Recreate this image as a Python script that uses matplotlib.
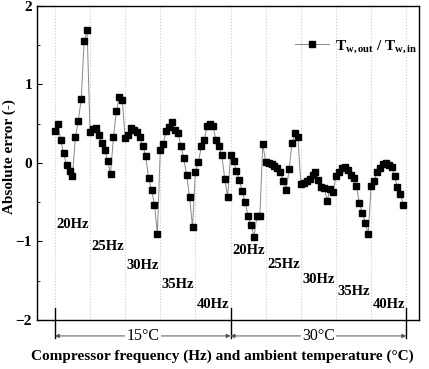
import matplotlib
matplotlib.use('Agg')
import matplotlib.pyplot as plt
import matplotlib.transforms as mtransforms
from matplotlib.ticker import MultipleLocator

plt.rcParams['font.family'] = ['Liberation Serif', 'DejaVu Serif']
plt.rcParams['font.weight'] = 'bold'
plt.rcParams['axes.labelweight'] = 'bold'
plt.rcParams['mathtext.fontset'] = 'custom'
plt.rcParams['mathtext.rm'] = 'Liberation Serif:bold'
plt.rcParams['mathtext.bf'] = 'Liberation Serif:bold'
plt.rcParams['mathtext.it'] = 'Liberation Serif:bold'

# absolute error, 12 samples per frequency, 15C then 30C
err_15_20 = [0.41, 0.50, 0.29, 0.12, -0.03, -0.10, -0.17, 0.33, 0.54, 0.82, 1.55, 1.69]
err_15_25 = [0.40, 0.43, 0.45, 0.36, 0.25, 0.16, 0.03, -0.14, 0.33, 0.66, 0.84, 0.80]
err_15_30 = [0.32, 0.36, 0.45, 0.42, 0.40, 0.33, 0.22, 0.09, -0.19, -0.34, -0.53, -0.90]
err_15_35 = [0.17, 0.24, 0.41, 0.46, 0.52, 0.42, 0.38, 0.22, 0.06, -0.16, -0.43, -0.82]
err_15_40 = [-0.12, 0.01, 0.21, 0.29, 0.47, 0.50, 0.47, 0.29, 0.21, 0.10, -0.20, -0.43]
err_30_20 = [0.10, 0.03, -0.10, -0.22, -0.36, -0.50, -0.68, -0.79, -0.94, -0.68, -0.68, 0.24]
err_30_25 = [0.01, 0.00, -0.01, -0.04, -0.06, -0.11, -0.23, -0.34, -0.08, 0.26, 0.38, 0.33]
err_30_30 = [-0.27, -0.26, -0.23, -0.20, -0.15, -0.12, -0.22, -0.31, -0.32, -0.48, -0.33, -0.37]
err_30_35 = [-0.17, -0.11, -0.07, -0.05, -0.09, -0.15, -0.19, -0.30, -0.51, -0.64, -0.76, -0.91]
err_30_40 = [-0.29, -0.23, -0.12, -0.06, -0.02, 0.00, -0.03, -0.05, -0.17, -0.31, -0.39, -0.54]

freq_labels = ['20Hz', '25Hz', '30Hz', '35Hz', '40Hz']
freq_label_y_15 = [-0.79, -1.07, -1.31, -1.55, -1.80]
freq_label_y_30 = [-1.11, -1.29, -1.48, -1.64, -1.80]
temp_labels = ['15°C', '30°C']

groups = [err_15_20, err_15_25, err_15_30, err_15_35, err_15_40,
          err_30_20, err_30_25, err_30_30, err_30_35, err_30_40]
n = len(err_15_20)
y = [v for g in groups for v in g]
x = list(range(len(y)))

fig = plt.figure(figsize=(4.29, 3.69), dpi=100)
ax = fig.add_axes([0.086, 0.133, 0.891, 0.851])

for i in range(len(groups) + 1):
    ax.axvline(i * n, color='#cccccc', lw=0.8, ls=':', zorder=0)

ax.plot(x, y, color='#888888', lw=0.7, marker='s', markersize=4.8,
        markerfacecolor='black', markeredgecolor='black',
        label=r'$\mathrm{T_{w,out}}$ / $\mathrm{T_{w,in}}$')

ax.set_xlim(-6.15, 124.4)
ax.set_ylim(-2, 2)
ax.set_xticks([])
ax.yaxis.set_major_locator(MultipleLocator(1))
ax.yaxis.set_minor_locator(MultipleLocator(0.5))
ax.tick_params(axis='y', which='both', direction='in', right=False)
ax.tick_params(axis='y', which='major', length=3.5, labelsize=11)
ax.tick_params(axis='y', which='minor', length=2)
for s in ax.spines.values():
    s.set_linewidth(1.0)

ax.set_ylabel('Absolute error (-)', fontsize=11)
ax.yaxis.set_label_coords(-0.055, 0.52)
ax.set_xlabel('Compressor frequency (Hz) and ambient temperature (°C)', fontsize=11)
ax.xaxis.set_label_coords(0.485, -0.095)

for k, lab in enumerate(freq_labels):
    ax.text(k * n + 0.5, freq_label_y_15[k], lab, fontsize=10.5, va='center', ha='left')
    ax.text((k + 5) * n + 0.5, freq_label_y_30[k], lab, fontsize=10.5, va='center', ha='left')

trans = mtransforms.blended_transform_factory(ax.transData, ax.transAxes)
span = 5 * n
for j, lab in enumerate(temp_labels):
    x0, x1 = j * span, (j + 1) * span
    ax.annotate('', xy=(x0, -0.051), xytext=(x1, -0.051), xycoords=trans,
                textcoords=trans, annotation_clip=False,
                arrowprops=dict(arrowstyle='<|-|>', color='#555555', lw=0.7,
                                mutation_scale=6, shrinkA=0, shrinkB=0))
    ax.text((x0 + x1) / 2, -0.051, lab, transform=trans, fontsize=11.5,
            fontweight='normal', ha='center', va='center', clip_on=False,
            bbox=dict(facecolor='white', edgecolor='none', pad=1))
for j in range(3):
    ax.plot([j * span, j * span], [0.038, -0.057], transform=trans,
            color='black', lw=1.0, clip_on=False)

ax.legend(loc='center left', bbox_to_anchor=(0.64, 0.87), frameon=False,
          fontsize=11, handlelength=2.2, handletextpad=0.4)

fig.savefig('out.png', dpi=100)
